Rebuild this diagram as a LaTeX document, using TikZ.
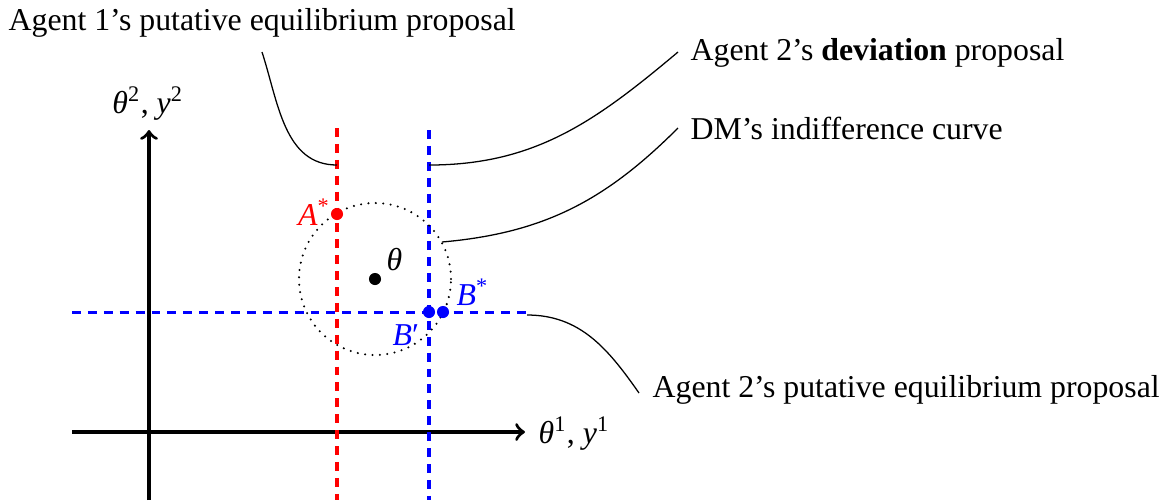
\documentclass[tikz,border=0pt]{standalone}
\usepackage{fontspec}
\setmainfont{Liberation Serif}
\begin{document}
\begin{tikzpicture}[x=0.3144pt, y=-0.3144pt,
  axis/.style={line width=1.05pt, ->},
  guide/.style={line width=0.95pt, dash pattern=on 2.8pt off 2.2pt},
  leader/.style={line width=0.4pt},
  dot/.style={circle, inner sep=0pt, minimum size=3.8pt},
  lbl/.style={inner sep=0pt, font=\fontsize{10}{12}\selectfont},
  indiff/.style={line width=0.72pt, dash pattern=on 0pt off 2.33pt, line cap=round}]
\useasboundingbox (0,0) rectangle (1161,500);

% axes
\coordinate (xs) at (72,432);
\coordinate (xe) at (525,432);
\coordinate (ys) at (149,500);
\coordinate (ye) at (149,130);
\draw[axis] (xs) -- (xe);
\draw[axis] (ys) -- (ye);
\node[lbl, anchor=base west] (xlab) at (538,443) {\textit{θ}\textsuperscript{1}, \textit{y}\textsuperscript{1}};
\node[lbl, anchor=base] (ylab) at (148,113) {\textit{θ}\textsuperscript{2}, \textit{y}\textsuperscript{2}};

% proposals
\coordinate (rt) at (337,128);
\coordinate (rb) at (337,500);
\coordinate (bt) at (429,130);
\coordinate (bb) at (429,500);
\coordinate (hl) at (72,312);
\coordinate (hr) at (527,312);
\draw[guide, red] (rt) -- (rb);
\draw[guide, blue] (bt) -- (bb);
\draw[guide, blue] (hl) -- (hr);

% indifference curve around the ideal point
\node[dot, fill=black] (theta) at (375,279) {};
\draw[indiff] (theta.center) circle[radius=23.9pt];

\node[dot, fill=red] (A) at (337,214) {};
\node[dot, fill=blue] (Bp) at (429,312) {};
\node[dot, fill=blue] (Bs) at (443,312) {};

\node[lbl, anchor=base west] at (386,270) {\textit{θ}};
\node[lbl, anchor=base east, text=red] at (331,225) {\textit{A}\textsuperscript{*}};
\node[lbl, anchor=base west, text=blue] at (456,305) {\textit{B}\textsuperscript{*}};
\node[lbl, anchor=base west, text=blue] at (392,345) {\textit{B}′};

% annotations
\node[lbl, anchor=base west] (lab1) at (8,30) {Agent 1’s putative equilibrium proposal};
\node[lbl, anchor=base west] (lab2) at (690,60) {Agent 2’s \textbf{deviation} proposal};
\node[lbl, anchor=base west] (lab3) at (690,139) {DM’s indifference curve};
\node[lbl, anchor=base west] (lab4) at (652,397) {Agent 2’s putative equilibrium proposal};

\coordinate (p1) at (337,165);
\coordinate (p2) at (429,165);
\coordinate (p3) at (442,242);
\coordinate (p4) at (527,315);
\coordinate (q1) at (262,52);
\coordinate (q2) at (678,52);
\coordinate (q3) at (678,128);
\coordinate (q4) at (639,393);

\draw[leader] (q1) to[out=-72, in=180] (p1);
\draw[leader] (p2) to[out=0, in=-140] (q2);
\draw[leader] (p3) to[out=5, in=-135] (q3);
\draw[leader] (p4) to[out=0, in=125] (q4);
\end{tikzpicture}
\end{document}
